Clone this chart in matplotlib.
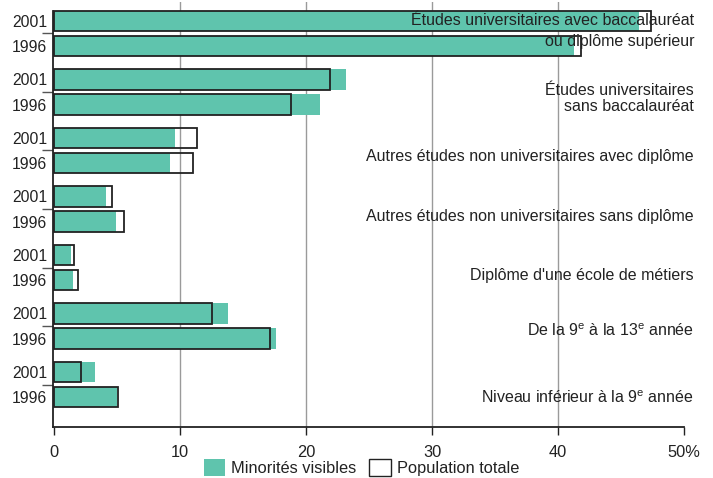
# -*- coding: utf-8 -*-
import numpy as np
import matplotlib
matplotlib.use('Agg')
import matplotlib.pyplot as plt
from matplotlib.patches import Patch

plt.rcParams['font.family'] = ['Liberation Sans', 'DejaVu Sans']
plt.rcParams['mathtext.fontset'] = 'custom'
plt.rcParams['mathtext.rm'] = 'Liberation Sans'
plt.rcParams['font.size'] = 11.8

# categories, top to bottom (each one may have two lines)
categories = [
    ["Études universitaires avec baccalauréat", "ou diplôme supérieur"],
    ["Études universitaires", "sans baccalauréat"],
    ["Autres études non universitaires avec diplôme"],
    ["Autres études non universitaires sans diplôme"],
    ["Diplôme d'une école de métiers"],
    [r"De la 9$^{\mathrm{e}}$ à la 13$^{\mathrm{e}}$ année"],
    [r"Niveau inférieur à la 9$^{\mathrm{e}}$ année"],
]
years = ["2001", "1996"]

# percentages
minorites_2001 = [46.4, 23.2, 9.6, 4.1, 1.3, 13.8, 3.2]
minorites_1996 = [41.3, 21.1, 9.2, 4.9, 1.5, 17.6, 5.0]
total_2001 = [47.4, 21.9, 11.3, 4.6, 1.6, 12.5, 2.1]
total_1996 = [41.8, 18.8, 11.0, 5.5, 1.9, 17.1, 5.1]

xticks = [0, 10, 20, 30, 40, 50]
xticklabels = ["0", "10", "20", "30", "40", "50%"]

green = '#5fc4ad'
dark = '#222222'
fs = 11.8


def main():
    fig = plt.figure(figsize=(7.13, 4.78), dpi=100)
    ax = fig.add_axes([53 / 713, 1 - 427 / 478, (684 - 53) / 713, (427 - 2) / 478])

    n = len(categories)
    g = np.arange(n)
    off = 0.215
    h = 0.35

    for yy, mv, tot in [(g - off, minorites_2001, total_2001), (g + off, minorites_1996, total_1996)]:
        ax.barh(yy, mv, height=h, color=green, zorder=2)
        ax.barh(yy, tot, height=h, facecolor='none', edgecolor=dark, linewidth=1.3, zorder=3)

    ax.set_xlim(-0.1, 50)
    ax.set_ylim(6.726, -0.538)

    # grid
    for v in xticks[1:-1]:
        ax.axvline(v, color='#9a9a9a', lw=1.0, zorder=1)

    # y labels: years
    ypos = np.sort(np.concatenate([g - off, g + off]))
    ax.set_yticks(ypos)
    ax.set_yticklabels(years * n, color=dark, fontsize=11.3)
    ax.tick_params(axis='y', which='major', length=0, pad=4)
    ax.set_yticks(g, minor=True)
    ax.tick_params(axis='y', which='minor', length=8, width=1, color='#555555')

    ax.set_xticks(xticks)
    ax.set_xticklabels(xticklabels, color=dark, fontsize=fs)
    ax.tick_params(axis='x', length=6, width=1, color=dark, pad=7)

    for s in ['top', 'right']:
        ax.spines[s].set_visible(False)
    ax.spines['bottom'].set_color(dark)
    ax.spines['bottom'].set_linewidth(1.3)
    ax.spines['left'].set_color(dark)
    ax.spines['left'].set_linewidth(1.3)
    ax.spines['left'].set_bounds(6.726, -off - h / 2)

    # category labels on the right (pixel rows from the reference)
    rows = [[21, 42], [91, 107], [157], [216], [275], [331], [398]]
    for lab, r in zip(categories, rows):
        for line, py in zip(lab, r):
            ax.text(50.8, (py - 33.5) / 58.5, line, ha='right', va='center',
                    color=dark, fontsize=11.5, zorder=4, clip_on=False)

    handles = [Patch(facecolor=green, edgecolor='none'),
               Patch(facecolor='white', edgecolor=dark, linewidth=1.0)]
    fig.legend(handles, ["Minorités visibles", "Population totale"], loc='center',
               bbox_to_anchor=(0.507, 0.022), ncol=2, frameon=False, borderpad=0,
               handlelength=1.3, handleheight=1.2, handletextpad=0.35,
               columnspacing=0.8, fontsize=fs, labelcolor=dark)

    fig.savefig('out.png', dpi=100)


if __name__ == '__main__':
    main()
